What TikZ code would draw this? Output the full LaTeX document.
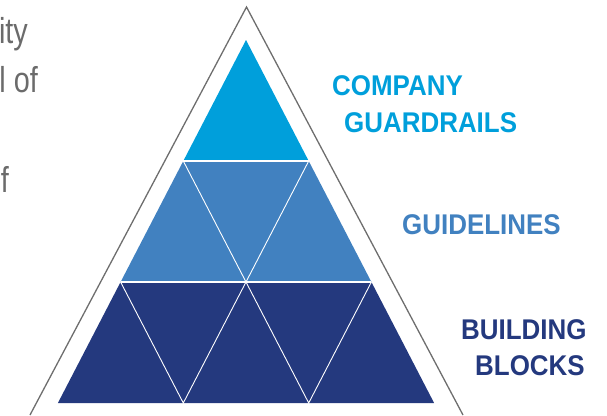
\documentclass[tikz,border=0pt]{standalone}
\usepackage{fontspec}
\setmainfont{Liberation Sans}
\newfontfamily\lblfont[FakeStretch=0.91]{Liberation Sans}
\newfontfamily\bodyfont[FakeStretch=0.8]{Liberation Sans}
\definecolor{topblue}{HTML}{009FDB}
\definecolor{midblue}{HTML}{4181C0}
\definecolor{darkblue}{HTML}{24397E}
\definecolor{framegray}{HTML}{6E6E6E}
\definecolor{bodygray}{HTML}{6B6B6B}
\begin{document}
\begin{tikzpicture}[x=1pt,y=-1pt,
  lbl/.style={anchor=base west,inner sep=0pt,font=\lblfont\bfseries\fontsize{28.5}{31}\selectfont},
  body/.style={anchor=base east,inner sep=0pt,text=bodygray,font=\bodyfont\fontsize{36}{40}\selectfont},
  divider/.style={draw=white,line width=0.9pt},
  rowline/.style={draw=white,line width=1.6pt},
  frame/.style={draw=framegray,line width=1.3pt}]
\useasboundingbox (0,0) rectangle (607,415);
% grid points of the inner pyramid
\coordinate (A) at (246,40);
\coordinate (L1) at (183.3,161);
\coordinate (R1) at (308.7,161);
\coordinate (L2) at (120.6,282);
\coordinate (M2) at (246,282);
\coordinate (R2) at (371.4,282);
\coordinate (L3) at (57.9,403);
\coordinate (P3) at (183.3,403);
\coordinate (Q3) at (308.7,403);
\coordinate (R3) at (434.1,403);
% rows
\fill[topblue] (A) -- (L1) -- (R1) -- cycle;
\fill[midblue] (L1) -- (R1) -- (R2) -- (L2) -- cycle;
\fill[darkblue] (L2) -- (R2) -- (R3) -- (L3) -- cycle;
% white dividers
\draw[divider] (L1) -- (M2) -- (R1);
\draw[divider] (L2) -- (P3) -- (M2) -- (Q3) -- (R2);
\draw[rowline] (L1) -- (R1);
\draw[rowline] (L2) -- (R2);
% outer frame
\coordinate (OA) at (246.5,7);
\coordinate (OL) at (30,415);
\coordinate (OR) at (463,415);
\draw[frame] (OL) -- (OA) -- (OR);
% labels
\node[lbl,text=topblue] (company) at (332,95) {COMPANY};
\node[lbl,text=topblue] (guardrails) at (344,132) {GUARDRAILS};
\node[lbl,text=midblue] (guidelines) at (402,234) {GUIDELINES};
\node[lbl,text=darkblue] (building) at (461,339) {BUILDING};
\node[lbl,text=darkblue] (blocks) at (475,375) {BLOCKS};
% cut-off body text on the left
\node[body] (t1) at (28,43) {ity};
\node[body] (t2) at (38,92) {l of};
\node[body] (t3) at (9,192) {f};
\end{tikzpicture}
\end{document}
